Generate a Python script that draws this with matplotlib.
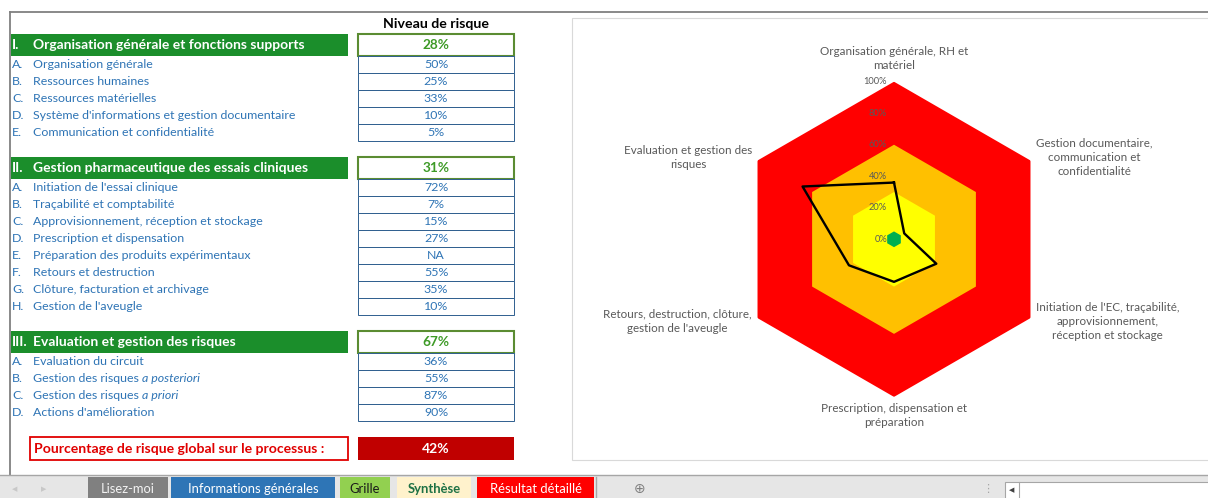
import numpy as np
import matplotlib.pyplot as plt
from matplotlib.patches import Rectangle

plt.rcParams['font.family'] = ['Lato', 'DejaVu Sans']

# --- data ---
section_nums = ["I.", "II.", "III."]
section_titles = ["Organisation générale et fonctions supports",
                  "Gestion pharmaceutique des essais cliniques",
                  "Evaluation et gestion des risques"]
section_values = ["28%", "31%", "67%"]

items_1 = ["Organisation générale", "Ressources humaines", "Ressources matérielles",
           "Système d'informations et gestion documentaire", "Communication et confidentialité"]
values_1 = ["50%", "25%", "33%", "10%", "5%"]
items_2 = ["Initiation de l'essai clinique", "Traçabilité et comptabilité",
           "Approvisionnement, réception et stockage", "Prescription et dispensation",
           "Préparation des produits expérimentaux", "Retours et destruction",
           "Clôture, facturation et archivage", "Gestion de l'aveugle"]
values_2 = ["72%", "7%", "15%", "27%", "NA", "55%", "35%", "10%"]
items_3 = ["Evaluation du circuit", "Gestion des risques", "Gestion des risques",
           "Actions d'amélioration"]
italic_3 = ["", "a posteriori", "a priori", ""]
values_3 = ["36%", "55%", "87%", "90%"]
letters = "ABCDEFGH"

global_label = "Pourcentage de risque global sur le processus :"
global_value = "42%"

radar_labels = ["Organisation générale, RH et\nmatériel",
                "Gestion documentaire,\ncommunication et\nconfidentialité",
                "Initiation de l'EC, traçabilité,\napprovisionnement,\nréception et stockage",
                "Prescription, dispensation et\npréparation",
                "Retours, destruction, clôture,\ngestion de l'aveugle",
                "Evaluation et gestion des\nrisques"]
radar_values = [36, 7.5, 31, 27, 33, 67]
band_limits = [100, 60, 30, 5]
band_colors = ["#ff0000", "#ffc000", "#ffff00", "#00b050"]
radial_ticks = [0, 20, 40, 60, 80, 100]

tabs = ["Lisez-moi", "Informations générales", "Grille", "Synthèse", "Résultat détaillé"]
tab_colors = ["#808080", "#2e75b6", "#92d050", "#fff2cc", "#ff0000"]
tab_text_colors = ["#f2f2f2", "#ffffff", "#1a1a1a", "#1e7145", "#ffffff"]

W, H = 1208, 498
fig = plt.figure(figsize=(W / 100, H / 100), dpi=100)
renderer = fig.canvas.get_renderer()
bg = fig.add_axes([0, 0, 1, 1])
bg.set_xlim(0, W)
bg.set_ylim(H, 0)
bg.axis('off')

# sheet frame
bg.plot([10, W], [12, 12], color='#808080', lw=1.3)
bg.plot([10, 10], [12, 475], color='#808080', lw=1.3)

# chart area
bg.add_patch(Rectangle((572, 18), 660, 442, facecolor='white', edgecolor='#d9d9d9', lw=0.8))

# --- table ---
blue = '#2e74b5'
bg.text(436, 24, "Niveau de risque", ha='center', va='center', fontsize=10.2,
        fontweight='bold', color='black')

italics = [[""] * len(items_1), [""] * len(items_2), italic_3]
y = 34
for num, title, sval, items, itals, vals in zip(section_nums, section_titles, section_values,
                                                [items_1, items_2, items_3], italics,
                                                [values_1, values_2, values_3]):
    bg.add_patch(Rectangle((11, y), 337, 21.5, facecolor='#1b8e2b', lw=0))
    bg.text(12, y + 11, num, ha='left', va='center', color='white', fontsize=10, fontweight='bold')
    bg.text(33, y + 11, title, ha='left', va='center', color='white', fontsize=10, fontweight='bold')
    bg.add_patch(Rectangle((358, y), 156, 21.5, facecolor='white', edgecolor='#5b8c32', lw=1.5))
    bg.text(436, y + 11, sval, ha='center', va='center', color='#3d9a26', fontsize=9.8,
            fontweight='bold')
    y += 21.5
    for i, (lab, it, v) in enumerate(zip(items, itals, vals)):
        bg.text(12, y + 12.2, letters[i] + ".", ha='left', va='baseline', color=blue, fontsize=8.9)
        t = bg.text(33, y + 12.2, lab, ha='left', va='baseline', color=blue, fontsize=8.9)
        if it:
            ext = t.get_window_extent(renderer)
            bg.text(ext.x1 + 3, y + 12.2, it, ha='left', va='baseline', color=blue,
                    fontsize=8.9, style='italic')
        bg.add_patch(Rectangle((358, y), 156, 17, facecolor='white', edgecolor='#2f5f8f', lw=0.7))
        bg.text(436, y + 12.2, v, ha='center', va='baseline', color=blue, fontsize=8.9)
        y += 17
    y += 16.5

bg.add_patch(Rectangle((30, y), 318, 23, facecolor='white', edgecolor='#e00000', lw=1.3))
bg.text(34, y + 11.5, global_label, ha='left', va='center', color='#e00000', fontsize=10.1,
        fontweight='bold')
bg.add_patch(Rectangle((358, y), 156, 23, facecolor='#c00000', lw=0))
bg.text(436, y + 11.5, global_value, ha='center', va='center', color='white', fontsize=10,
        fontweight='bold')

# --- sheet tab bar ---
bg.add_patch(Rectangle((0, 475), W, 23, facecolor='#e6e6e6', lw=0))
bg.plot([0, W], [475, 475], color='#a6a6a6', lw=1)
bg.text(15, 489, "◀", ha='center', va='center', color='#c8c8c8', fontsize=5)
bg.text(44, 489, "▶", ha='center', va='center', color='#c8c8c8', fontsize=5)
tab_x = [88, 171, 340, 397, 477]
tab_w = [80, 164, 50, 74, 117]
for name, x0, w, fc, tc in zip(tabs, tab_x, tab_w, tab_colors, tab_text_colors):
    bg.add_patch(Rectangle((x0, 476.5), w, 22, facecolor=fc, lw=0))
    bold = 'bold' if name == "Synthèse" else 'normal'
    bg.text(x0 + w / 2, 488.5, name, ha='center', va='center', color=tc, fontsize=9.4,
            fontweight=bold)
bg.plot([596, 596], [477, 498], color='#a6a6a6', lw=1)
bg.text(640, 488.5, "⊕", ha='center', va='center', color='#808080', fontsize=10)
bg.text(988, 488.5, "⋮", ha='center', va='center', color='#a6a6a6', fontsize=8)
bg.add_patch(Rectangle((1005, 482), 210, 17, facecolor='white', edgecolor='#a6a6a6', lw=0.8))
bg.plot([1019, 1019], [482, 498], color='#a6a6a6', lw=0.8)
bg.text(1012, 490, "◀", ha='center', va='center', color='#404040', fontsize=5)

# --- radar chart ---
cx, cy, R = 894, 239.3, 157.6
ax = fig.add_axes([(cx - R) / W, (H - cy - R) / H, 2 * R / W, 2 * R / H], projection='polar')
ax.set_theta_offset(np.pi / 2)
ax.set_theta_direction(-1)
ax.set_ylim(0, 100)
ax.grid(False)
ax.spines['polar'].set_visible(False)
ax.set_xticks([])
ax.set_yticks([])
ax.patch.set_visible(False)

theta = np.deg2rad(np.arange(len(radar_labels)) * 360 / len(radar_labels))
theta_c = np.append(theta, theta[0])
for lim, col in zip(band_limits, band_colors):
    ax.fill(theta_c, [lim] * len(theta_c), color=col, lw=0)
ax.plot(theta_c, radar_values + radar_values[:1], color='black', lw=1.7, clip_on=False)

for t in radial_ticks:
    ax.annotate(f"{t}%", xy=(0, t), xytext=(-5, 0), textcoords='offset points',
                ha='right', va='center', fontsize=6.7, color='#595959')

label_pos = [(1.07, 'center', 'bottom'), (1.04, 'left', 'center'), (1.04, 'left', 'center'),
             (1.04, 'center', 'top'), (1.04, 'right', 'center'), (1.04, 'right', 'center')]
for t, lab, (r, ha, va) in zip(theta, radar_labels, label_pos):
    ax.text(t, r * 100, lab, ha=ha, va=va, multialignment='center', fontsize=8.4,
            color='#595959', clip_on=False, linespacing=1.35)

fig.savefig("out.png", dpi=100)
